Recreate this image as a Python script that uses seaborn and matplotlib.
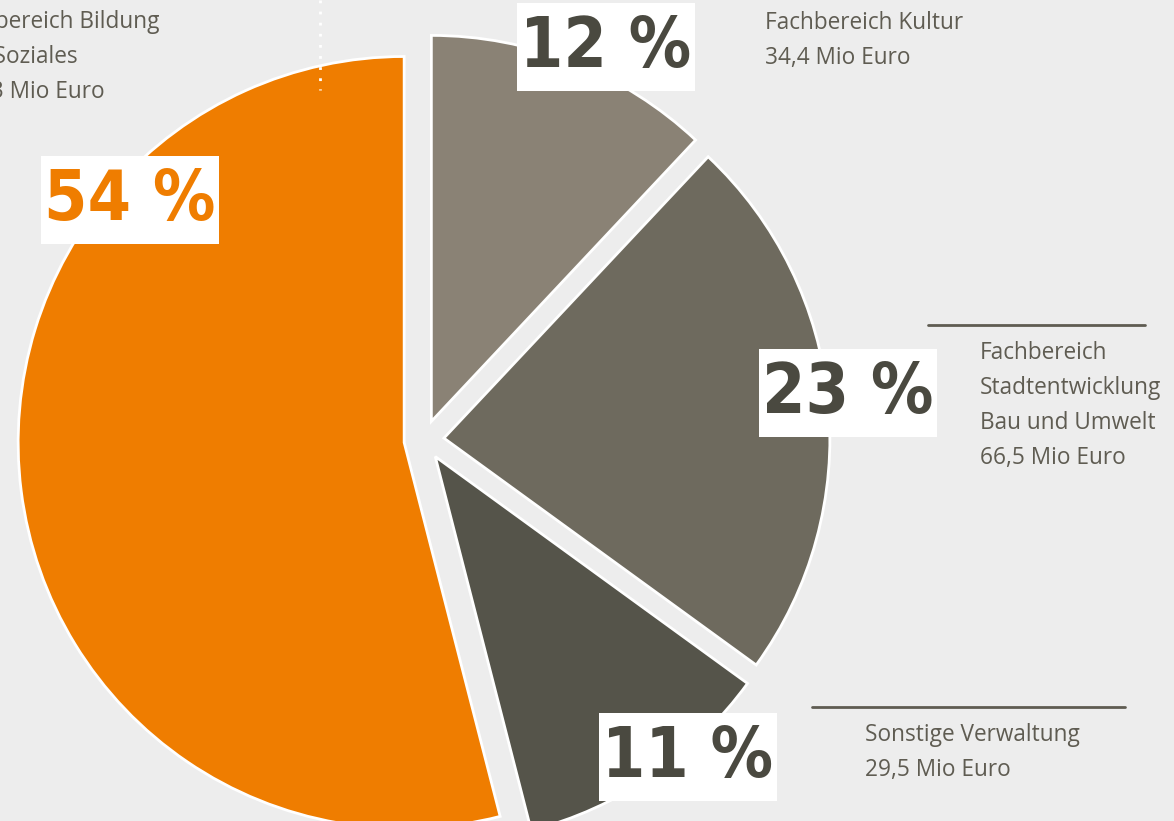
import matplotlib
matplotlib.use('Agg')
import matplotlib.pyplot as plt
import seaborn as sns
from matplotlib.patches import Rectangle

# data
bereiche = ['Fachbereich Bildung und Soziales', 'Sonstige Verwaltung',
            'Fachbereich Stadtentwicklung Bau und Umwelt', 'Fachbereich Kultur']
anteile = [54, 11, 23, 12]
mio_euro = ['153,3', '29,5', '66,5', '34,4']
label_lines = [
    ['Fachbereich Bildung', 'und Soziales', '153,3 Mio Euro'],
    ['Sonstige Verwaltung', '29,5 Mio Euro'],
    ['Fachbereich', 'Stadtentwicklung', 'Bau und Umwelt', '66,5 Mio Euro'],
    ['Fachbereich Kultur', '34,4 Mio Euro'],
]
farben = ['#EF7D00', '#55544A', '#6E6A5E', '#8A8275']
pct_farben = ['#EF7D00', '#4A4940', '#4A4940', '#4A4940']

sns.set_theme(style='white')
plt.rcParams['font.family'] = ['Open Sans', 'DejaVu Sans']

W, H = 1174, 821
bg = '#EDEDED'
txt = '#5F5C52'

fig = plt.figure(figsize=(W / 100, H / 100), dpi=100, facecolor=bg)
ax = fig.add_axes([0, 0, 1, 1])
ax.set_facecolor(bg)

# pie, pixel units (y flipped by hand)
cx, cy, r = 424, H - 440, 386
ax.pie(anteile, colors=farben, startangle=90, counterclock=True,
       explode=[20] * 4, radius=r, center=(cx, cy),
       wedgeprops=dict(edgecolor='white', linewidth=2))
ax.set_xlim(0, W)
ax.set_ylim(0, H)
ax.set_aspect('equal')
ax.axis('off')

# percentage boxes
pct_pos = [(130, 200), (688, 757), (848, 393), (606, 47)]
bw, bh = 178, 88
for (x, y), p, c in zip(pct_pos, anteile, pct_farben):
    ax.add_patch(Rectangle((x - bw / 2, H - y - bh / 2), bw, bh,
                           facecolor='white', edgecolor='none', zorder=5))
    ax.text(x, H - y, f'{p} %', ha='center', va='center', color=c,
            fontsize=50, fontweight='bold', fontstretch='condensed',
            family=['DejaVu Sans'], zorder=6)

# category labels
lab_pos = [(-54, 22), (865, 735), (980, 353), (765, 23)]
step = 35
for (x, y), lines in zip(lab_pos, label_lines):
    for i, line in enumerate(lines):
        ax.text(x, H - (y + i * step), line, ha='left', va='center',
                color=txt, fontsize=16.3, zorder=6)

# rules above labels
ax.plot([928, 1145], [H - 325, H - 325], color=txt, lw=2)
ax.plot([812, 1125], [H - 707, H - 707], color=txt, lw=2)
ax.plot([320, 320], [H, H - 90], color='white', lw=2, ls=(0, (1, 3)), zorder=4)

plt.savefig('out.png', dpi=100, facecolor=bg)
